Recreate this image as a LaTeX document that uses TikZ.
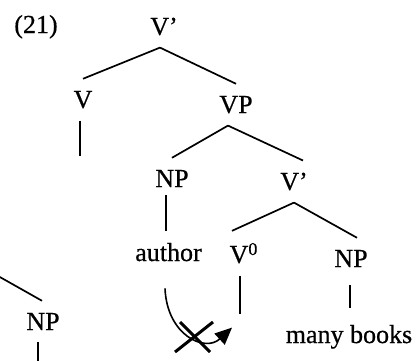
\documentclass[tikz,border=0pt]{standalone}
\usepackage{fontspec}
\setmainfont{Liberation Serif}[FakeBold=0.6]
\usetikzlibrary{arrows.meta}
\begin{document}
\begin{tikzpicture}[x=1pt,y=-1pt,
  lab/.style={anchor=base, inner xsep=0pt, inner ysep=12pt,
              font=\fontsize{26}{30}\selectfont},
  branch/.style={line width=1.7pt},
  movearrow/.style={line width=1.6pt, -{Triangle[length=17pt,width=15pt]}},
  blocked/.style={line width=3pt}]
\useasboundingbox (0,0) rectangle (417,360);
\clip (0,0) rectangle (417,360);

% labels of the tree
\node[lab] (ex)     at (36,33)    {(21)};
\node[lab] (vbar1)  at (164,35)   {V'};
\node[lab] (v)      at (83,108)   {V};
\node[lab] (vp)     at (236,113)  {VP};
\node[lab] (np1)    at (172,187)  {NP};
\node[lab] (vbar2)  at (294,190)  {V'};
\node[lab] (author) at (168.5,261){author};
\node[lab] (v0)     at (239,263)  {V\rlap{\raisebox{8pt}{\fontsize{18}{18}\selectfont 0}}};
\node[lab] (np2)    at (351,267)  {NP};
\node[lab] (books)  at (349,343)  {many books};
\node[lab] (np3)    at (43,330)   {NP};

% branches
\draw[branch] ([xshift=-4pt]vbar1.south) -- (v.north);
\draw[branch] ([xshift=-4pt]vbar1.south) -- (vp.north);
\draw[branch] ([xshift=-8pt]vp.south) -- (np1.north);
\draw[branch] ([xshift=-8pt]vp.south) -- ([xshift=9pt]vbar2.north);
\draw[branch] (vbar2.south) -- ([xshift=-7pt]v0.north);
\draw[branch] (vbar2.south) -- ([xshift=6pt]np2.north);

% unary branches
\draw[branch] ([xshift=-3pt]v.south) -- ([xshift=-3pt,yshift=-35pt]v.south);
\draw[branch, shorten <=-4pt] ([xshift=-6pt]np1.south) -- ([xshift=-2.5pt]author.north);
\draw[branch] ([xshift=1pt]v0.south) -- ([xshift=1pt,yshift=-38pt]v0.south);
\draw[branch, shorten <=6pt, shorten >=5pt] ([xshift=-1pt]np2.south) -- ([xshift=1pt]books.north);

% part of the tree on the left
\coordinate (lin) at (-3,275.4);
\draw[branch] (lin) -- ([xshift=-1pt]np3.north);
\draw[branch] ([xshift=-5pt]np3.south) -- ([xshift=-5pt,yshift=-25pt]np3.south);

% blocked movement of the noun into V0
\coordinate (mvs) at ([xshift=-3.5pt,yshift=-15pt]author.south);
\coordinate (mve) at ([xshift=-7pt,yshift=-52pt]v0.south);
\draw[movearrow] (mvs) .. controls +(2,47) and +(-27,25) .. (mve);

\coordinate (blk) at (194,337);
\draw[blocked] ([shift={(-19pt,-15pt)}]blk) -- ([shift={(19pt,15pt)}]blk);
\draw[blocked] ([shift={(-14pt,15pt)}]blk) -- ([shift={(16pt,-15pt)}]blk);
\end{tikzpicture}
\end{document}
